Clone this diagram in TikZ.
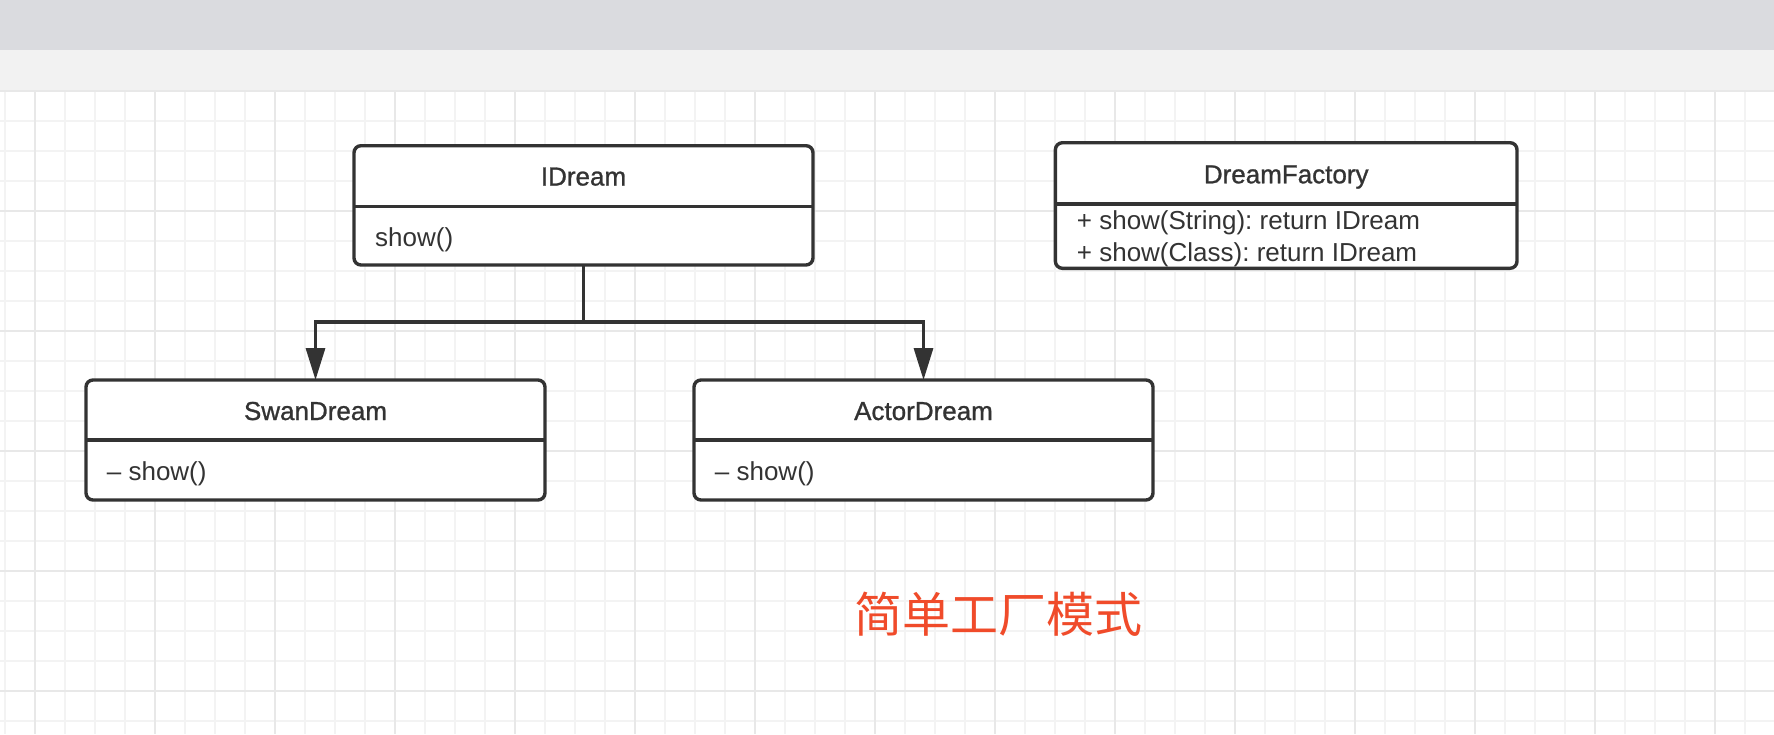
\documentclass[tikz,border=0pt]{standalone}
\usepackage{fontspec}
\setmainfont{Liberation Sans}
\newfontfamily\cjk{Noto Sans CJK SC}
\newfontfamily\headfont[FakeBold=1.0]{Liberation Sans}
\usetikzlibrary{arrows.meta}
\frenchspacing
\definecolor{ink}{HTML}{333333}
\definecolor{topbar}{HTML}{DADBDF}
\definecolor{band}{HTML}{F2F2F2}
\definecolor{gridminor}{HTML}{F3F3F3}
\definecolor{gridmajor}{HTML}{E8E8E8}
\definecolor{cnred}{HTML}{F04B2A}
\tikzset{
  classbox/.style={draw=ink, line width=3.4pt, rounded corners=7pt, fill=white,
    inner sep=0pt, outer sep=0pt},
  divider/.style={draw=ink, line width=3.4pt},
  classtitle/.style={anchor=base, inner sep=0pt, text=ink, font=\headfont\fontsize{26}{30}\selectfont},
  member/.style={anchor=base west, inner sep=0pt, text=ink, font=\fontsize{26}{30}\selectfont},
  conn/.style={draw=ink, line width=3.2pt},
  gen/.style={conn, -{Triangle[length=32pt,width=19pt]}},
  gminor/.style={draw=gridminor, line width=1.8pt},
  gmajor/.style={draw=gridmajor, line width=2.2pt}
}
\begin{document}
\begin{tikzpicture}[x=1pt,y=-1pt]
\useasboundingbox (0,0) rectangle (1774,734);
% background
\fill[white] (0,0) rectangle (1774,734);
\fill[topbar] (0,0) rectangle (1774,50);
\fill[band] (0,50) rectangle (1774,90.7);
% grid
\foreach \k in {0,...,59} \draw[gminor] ({5+30*\k},90.7) -- ({5+30*\k},734);
\foreach \k in {0,...,21} \draw[gminor] (0,{90.7+30*\k}) -- (1774,{90.7+30*\k});
\foreach \k in {0,...,14} \draw[gmajor] ({35+120*\k},90.7) -- ({35+120*\k},734);
\foreach \k in {0,...,5} \draw[gmajor] (0,{90.7+120*\k}) -- (1774,{90.7+120*\k});

% IDream
\node[classbox, minimum width=459pt, minimum height=119.3pt, anchor=north west] (idream) at (354,145.7) {};
\draw[divider] (354,206.7) -- (813,206.7);
\node[classtitle] (idreamT) at (583.5,185.5) {IDream};
\node[member] (idreamM) at (375,246) {show()};

% DreamFactory
\node[classbox, minimum width=461.6pt, minimum height=125.6pt, anchor=north west] (factory) at (1055.4,142.7) {};
\draw[divider] (1055.4,204) -- (1517,204);
\node[classtitle] (factoryT) at (1286.2,183.3) {DreamFactory};
\node[member] (factoryM1) at (1076.7,229.3) {+ show(String): return IDream};
\node[member] (factoryM2) at (1076.7,261.7) {+ show(Class): return IDream};

% SwanDream
\node[classbox, minimum width=459pt, minimum height=120pt, anchor=north west] (swan) at (86,380) {};
\draw[divider] (86,440) -- (545,440);
\node[classtitle] (swanT) at (315.5,420) {SwanDream};
\node[member] (swanM) at (106.7,480) {– show()};

% ActorDream
\node[classbox, minimum width=459pt, minimum height=120pt, anchor=north west] (actor) at (694,380) {};
\draw[divider] (694,440) -- (1153,440);
\node[classtitle] (actorT) at (923.5,420) {ActorDream};
\node[member] (actorM) at (714.7,480) {– show()};

% connectors
\coordinate (j) at (583.5,322);
\draw[conn] (idream.south) -- (j);
\draw[gen] (j) -| (swan.north);
\draw[gen] (j) -| (actor.north);

% caption
\node[anchor=base west, inner sep=0pt, text=cnred, font=\cjk\fontsize{48}{52}\selectfont] (caption) at (854,632) {简单工厂模式};
\end{tikzpicture}
\end{document}
